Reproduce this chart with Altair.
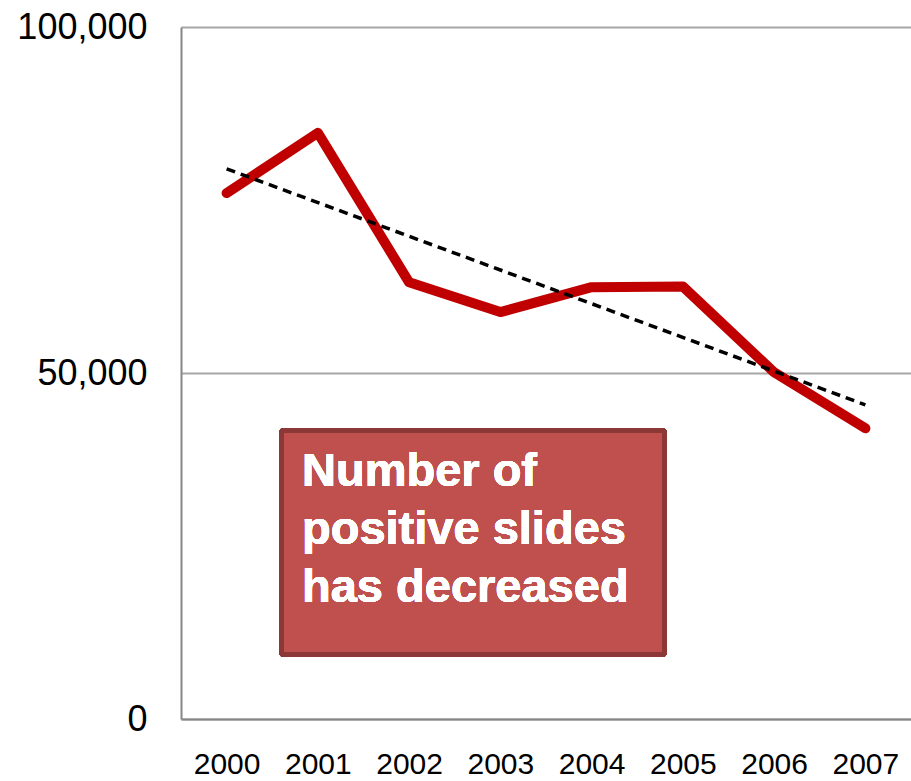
import altair as alt
import pandas as pd

years = [2000, 2001, 2002, 2003, 2004, 2005, 2006, 2007]
positive_slides = [76000, 84700, 63100, 58800, 62400, 62500, 50100, 42000]
annotation_lines = "Number of\npositive slides\nhas decreased"

df = pd.DataFrame({"year": years, "value": positive_slides})

FONT = "Liberation Sans"

x_enc = alt.X(
    "year:O",
    scale=alt.Scale(type="point", padding=0.5),
    axis=alt.Axis(
        title=None, labelAngle=0, labelFontSize=30, labelFont=FONT, labelColor="#000000",
        ticks=False, labelPadding=30, domainColor="#868686", domainWidth=2, grid=False,
    ),
)
y_enc = alt.Y(
    "value:Q",
    scale=alt.Scale(domain=[0, 100000], nice=False),
    axis=alt.Axis(
        title=None, values=[0, 50000, 100000], format=",d", labelFontSize=36, labelFont=FONT,
        labelColor="#000000", ticks=False, labelPadding=34, domainColor="#868686", domainWidth=2,
        grid=True, gridColor="#a6a6a6", gridWidth=2,
    ),
)

base = alt.Chart(df)

line = base.mark_line(color="#C00000", strokeWidth=10, strokeCap="round", strokeJoin="round").encode(
    x=x_enc, y=y_enc
)

trend = base.transform_regression("year", "value").mark_line(
    color="#000000", strokeWidth=3.5, strokeDash=[9, 6]
).encode(x=x_enc, y=y_enc)

box = base.mark_rect(
    fill="#C0504D", stroke="#8C3836", strokeWidth=5, cornerRadius=2
).encode(
    x=alt.value(100.5), x2=alt.value(483.5), y=alt.value(403.5), y2=alt.value(627.5)
)

label = base.mark_text(
    text=annotation_lines, lineBreak="\n", lineHeight=58, align="left", baseline="alphabetic",
    font=FONT, fontSize=47, fontWeight="bold", color="#ffffff",
).encode(x=alt.value(121), y=alt.value(459))

chart = alt.layer(line, trend, box, label).properties(
    width=730, height=692,
    autosize=alt.AutoSizeParams(type="none"),
    padding={"left": 181, "top": 27, "right": 0, "bottom": 62},
).configure_view(stroke=None)

chart.save("out.html", embed_options={"renderer": "svg", "actions": False})
